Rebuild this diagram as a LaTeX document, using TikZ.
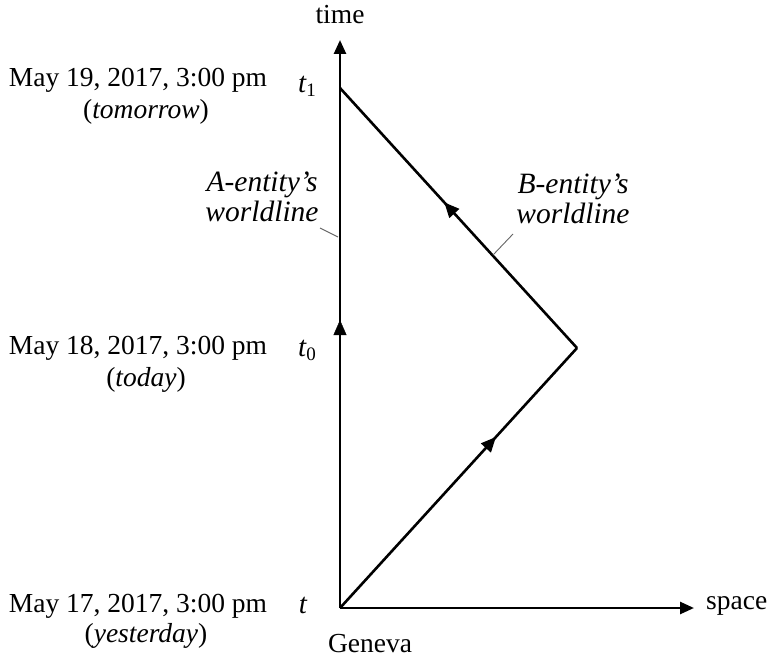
\documentclass[tikz,border=0pt]{standalone}
\usepackage{fontspec}
\setmainfont{Liberation Serif}
\usetikzlibrary{arrows.meta,decorations.markings}
\newcommand{\tsym}[1]{{\itshape t}\raisebox{-0.3ex}{\fontsize{19}{20}\selectfont #1}}
\tikzset{
  axis/.style={line width=2.6pt,-{Triangle[length=14pt,width=12pt]}},
  world/.style={line width=2.6pt},
  lbl/.style={font=\fontsize{27.5}{32}\selectfont, align=center, inner sep=0pt},
  wlbl/.style={font=\fontsize{29.5}{30}\selectfont\itshape, align=center, inner sep=0pt},
  tlbl/.style={font=\fontsize{29}{31}\selectfont, inner sep=0pt},
  leader/.style={line width=0.9pt, draw=gray!80!black},
  midarrow/.style={postaction={decorate},decoration={markings,mark=at position #1 with {\arrow{Triangle[length=15pt,width=13pt]}}}}
}
\begin{document}
\begin{tikzpicture}[x=1pt,y=-1pt]
\useasboundingbox (0,0) rectangle (773,658);
\coordinate (O) at (340,608);
\coordinate (top) at (340,40);
\coordinate (right) at (694,608);
\coordinate (T1) at (340,88);
\coordinate (apex) at (577,348);
% axes
\draw[axis] (O) -- (top);
\draw[axis] (O) -- (right);
% A worldline arrow
\path[midarrow=0.507] (O) -- (top);
% B worldline
\draw[world, line join=miter, midarrow=0.658] (O) -- (apex);
\draw[world, midarrow=0.56] (apex) -- (T1);
% axis labels
\node[lbl] (timel) at (340,15) {time};
\node[lbl, anchor=west] (spacel) at (706,606) {space};
\node[lbl] (geneva) at (370,644) {Geneva};
% t labels
\node[tlbl] (t1) at (307,86) {\tsym{1}};
\node[tlbl] (t0) at (307,350) {\tsym{0}};
\node[tlbl] (t) at (303,605) {{\itshape t}};
% date labels
\node[lbl] (d1) at (138,80) {May 19, 2017, 3:00 pm};
\node[lbl] (d1b) at (146,112) {(\textit{tomorrow})};
\node[lbl] (d0) at (138,348) {May 18, 2017, 3:00 pm};
\node[lbl] (d0b) at (146,380) {(\textit{today})};
\node[lbl] (dm) at (138,606) {May 17, 2017, 3:00 pm};
\node[lbl] (dmb) at (146,636) {(\textit{yesterday})};
% worldline labels
\node[wlbl] (Alab) at (262,197) {A-entity’s\\worldline};
\node[wlbl] (Blab) at (573,199) {B-entity’s\\worldline};
\coordinate (Aend) at (338,237);
\coordinate (Astart) at (320,228);
\coordinate (Bend) at (493,255);
\coordinate (Bstart) at (513,234);
\draw[leader] (Astart) -- (Aend);
\draw[leader] (Bstart) -- (Bend);
\end{tikzpicture}
\end{document}
